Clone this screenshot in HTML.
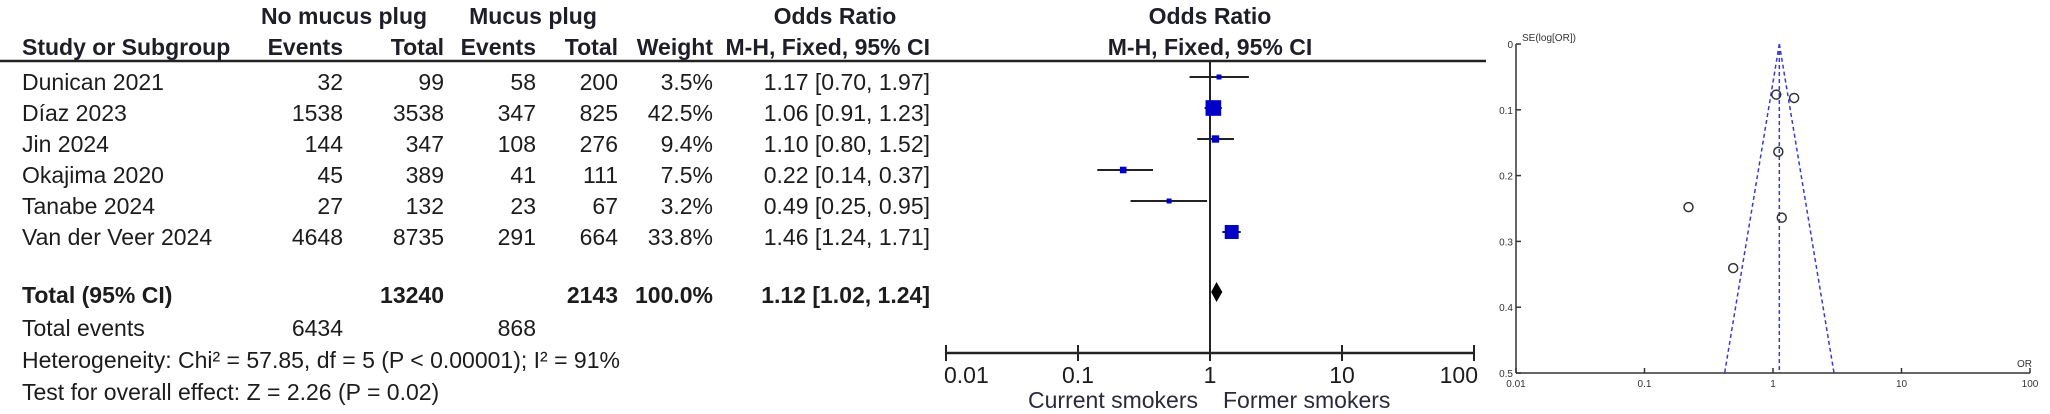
<!DOCTYPE html>
<html><head><meta charset="utf-8"><style>
html,body{margin:0;padding:0;background:#fff;}
svg{display:block;font-family:"Liberation Sans",Arial,sans-serif;}
</style></head><body>
<svg id="fig" width="2050" height="414" viewBox="0 0 2050 414" xmlns="http://www.w3.org/2000/svg">
<g id="table" font-size="23" fill="#1c1c1c"></g>
<g id="forest"></g>
<g id="funnel"></g>
</svg>
<script>
const studies = ["Dunican 2021","Díaz 2023","Jin 2024","Okajima 2020","Tanabe 2024","Van der Veer 2024"];
const events1 = ["32","1538","144","45","27","4648"];
const totals1 = ["99","3538","347","389","132","8735"];
const events2 = ["58","347","108","41","23","291"];
const totals2 = ["200","825","276","111","67","664"];
const weights = [3.5,42.5,9.4,7.5,3.2,33.8];
const orVals = [1.17,1.06,1.10,0.22,0.49,1.46];
const ciLow = [0.70,0.91,0.80,0.14,0.25,1.24];
const ciHigh = [1.97,1.23,1.52,0.37,0.95,1.71];
const pooled = [1.12,1.02,1.24];
const forestTicks = ["0.01","0.1","1","10","100"];
const funnelYTicks = ["0","0.1","0.2","0.3","0.4","0.5"];

const NS="http://www.w3.org/2000/svg";
function mk(tag,attrs,parent,text){const e=document.createElementNS(NS,tag);for(const k in attrs)e.setAttribute(k,attrs[k]);if(text!==undefined)e.textContent=text;parent.appendChild(e);return e;}
const tbl=document.getElementById('table');
const forest=document.getElementById('forest');
const funnel=document.getElementById('funnel');
const rowY=i=>77+i*31;

function hdr(x,y,t,anchor,name){const e=mk('text',{x:x,y:y,'text-anchor':anchor,'font-weight':'bold',fill:'#1e1e28'},tbl,t);

}
hdr(344,24,"No mucus plug","middle","group1-header");
hdr(533,24,"Mucus plug","middle","group2-header");
hdr(835,24,"Odds Ratio","middle","or-header");
hdr(22,55,"Study or Subgroup","start","study-header");
hdr(343,55,"Events","end","events1-header");
hdr(444,55,"Total","end","total1-header");
hdr(536,55,"Events","end","events2-header");
hdr(618,55,"Total","end","total2-header");
hdr(713,55,"Weight","end","weight-header");
hdr(930,55,"M-H, Fixed, 95% CI","end","or-ci-header");
hdr(1210,24,"Odds Ratio","middle","forest-title");
hdr(1210,55,"M-H, Fixed, 95% CI","middle","forest-subtitle");
const hl=mk('line',{x1:0,y1:61,x2:1486,y2:61,stroke:'#222','stroke-width':2.5},tbl);



function cell(x,y,t,anchor,name,bold){const e=mk('text',{x:x,y:y,'text-anchor':anchor},tbl,t);if(bold)e.setAttribute('font-weight','bold');

}
studies.forEach((s,i)=>{
  const y=rowY(i)+13;
  cell(22,y,s,'start','study-name');
  cell(343,y,events1[i],'end','events1-value');
  cell(444,y,totals1[i],'end','total1-value');
  cell(536,y,events2[i],'end','events2-value');
  cell(618,y,totals2[i],'end','total2-value');
  cell(713,y,weights[i].toFixed(1)+'%','end','weight-value');
  cell(930,y,orVals[i].toFixed(2)+' ['+ciLow[i].toFixed(2)+', '+ciHigh[i].toFixed(2)+']','end','or-value');
});
const ty=303;
cell(22,ty,"Total (95% CI)",'start','total-label',true);
cell(444,ty,"13240",'end','total1-sum',true);
cell(618,ty,"2143",'end','total2-sum',true);
cell(713,ty,"100.0%",'end','weight-sum',true);
cell(930,ty,pooled[0].toFixed(2)+' ['+pooled[1].toFixed(2)+', '+pooled[2].toFixed(2)+']','end','pooled-or',true);
cell(22,336,"Total events",'start','total-events-label');
cell(343,336,"6434",'end','total-events1');
cell(536,336,"868",'end','total-events2');
cell(22,368,"Heterogeneity: Chi² = 57.85, df = 5 (P < 0.00001); I² = 91%",'start','heterogeneity-text');
cell(22,400,"Test for overall effect: Z = 2.26 (P = 0.02)",'start','overall-effect-text');

const fx=v=>1210+132*Math.log10(v);
const axY=353;
let e=mk('line',{x1:fx(0.01),y1:axY,x2:fx(100),y2:axY,stroke:'#222','stroke-width':2.5},forest);


e=mk('line',{x1:fx(1),y1:61,x2:fx(1),y2:axY,stroke:'#222','stroke-width':2},forest);


forestTicks.forEach(t=>{
  const x=fx(parseFloat(t));
  const tk=mk('line',{x1:x,y1:axY-8,x2:x,y2:axY+8,stroke:'#222','stroke-width':2},forest);
  
  
  const lb=mk('text',{x:t==='0.01'?x-2:(t==='100'?x+4:x),y:axY+30,'text-anchor':t==='0.01'?'start':(t==='100'?'end':'middle'),'font-size':23,fill:'#1c1c1c'},forest,t);
  
  
});
e=mk('text',{x:fx(1)-12,y:axY+55,'text-anchor':'end','font-size':23,fill:'#2a2a3a'},forest,"Current smokers");


e=mk('text',{x:fx(1)+13,y:axY+55,'text-anchor':'start','font-size':23,fill:'#2a2a3a'},forest,"Former smokers");


studies.forEach((s,i)=>{
  const y=rowY(i);
  const ci=mk('line',{x1:fx(ciLow[i]),y1:y,x2:fx(ciHigh[i]),y2:y,stroke:'#222','stroke-width':2},forest);
  
  
  const sz=Math.max(5,2.4*Math.sqrt(weights[i]));
  const sq=mk('rect',{x:fx(orVals[i])-sz/2,y:y-sz/2,width:sz,height:sz,fill:'#0000c8'},forest);
  
  
});
const dy=292;
e=mk('polygon',{points:`${fx(pooled[1])},${dy} ${fx(pooled[0])},${dy-10} ${fx(pooled[2])},${dy} ${fx(pooled[0])},${dy+10}`,fill:'#000'},forest);



const ux=v=>1516+128.5*Math.log10(v/0.01);
const uy=v=>44+v*658;
e=mk('line',{x1:ux(0.01),y1:uy(0),x2:ux(0.01),y2:uy(0.5),stroke:'#333','stroke-width':1.5},funnel);


e=mk('line',{x1:ux(0.01),y1:uy(0.5),x2:ux(100),y2:uy(0.5),stroke:'#333','stroke-width':1.5},funnel);


funnelYTicks.forEach(t=>{
  const y=uy(parseFloat(t));
  const tk=mk('line',{x1:ux(0.01),y1:y,x2:ux(0.01)+5,y2:y,stroke:'#333','stroke-width':1.5},funnel);
  
  
  const lb=mk('text',{x:ux(0.01)-3,y:y+4,'text-anchor':'end','font-size':10,fill:'#333'},funnel,t);
  
  
});
forestTicks.forEach(t=>{
  const x=ux(parseFloat(t));
  const tk=mk('line',{x1:x,y1:uy(0.5)-5,x2:x,y2:uy(0.5),stroke:'#333','stroke-width':1.5},funnel);
  
  
  const lb=mk('text',{x:x,y:uy(0.5)+14,'text-anchor':'middle','font-size':10,fill:'#333'},funnel,t);
  
  
});
e=mk('text',{x:ux(0.01)+6,y:uy(0)-3,'font-size':10,fill:'#333'},funnel,"SE(log[OR])");


e=mk('text',{x:ux(100)+2,y:uy(0.5)-6,'text-anchor':'end','font-size':10,fill:'#333'},funnel,"OR");


const pOR=pooled[0];
[[pOR,pOR],[pOR,pOR*Math.exp(-1.96*0.5)],[pOR,pOR*Math.exp(1.96*0.5)]].forEach(p=>{
  const l=mk('line',{x1:ux(p[0]),y1:uy(0),x2:ux(p[1]),y2:uy(0.5),stroke:'#3a3ad0','stroke-width':1.5,'stroke-dasharray':'4,3'},funnel);
  
  
});
studies.forEach((s,i)=>{
  const se=(Math.log(ciHigh[i])-Math.log(ciLow[i]))/3.92;
  const c=mk('circle',{cx:ux(orVals[i]),cy:uy(se),r:4.5,fill:'none',stroke:'#333','stroke-width':1.5},funnel);
  
  
});
</script>
</body></html>
